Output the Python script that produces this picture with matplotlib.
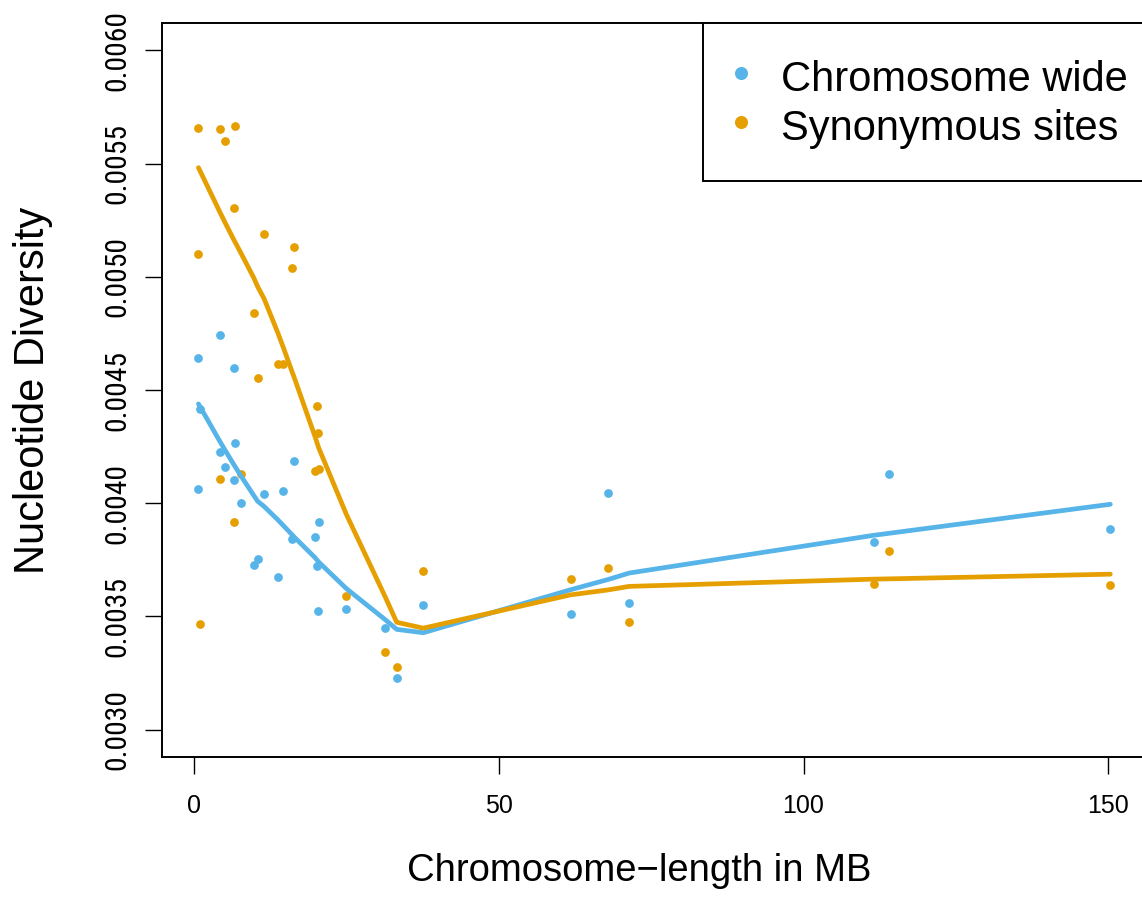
import numpy as np
import matplotlib
matplotlib.use("Agg")
import matplotlib.pyplot as plt
from matplotlib import font_manager
from matplotlib.lines import Line2D

# ---------------- data ----------------
chrom_length_mb = [0.8, 0.8, 1.05, 4.25, 4.3, 5.1, 6.6, 6.7, 6.85, 7.75,
                   9.9, 10.5, 11.55, 13.8, 14.7, 16.2, 16.4, 19.9, 20.2, 20.35,
                   20.5, 25.05, 31.4, 33.3, 37.65, 61.8, 68.0, 71.4, 111.6, 114.05,
                   150.3]
pi_chromosome_wide = [0.004643, 0.004061, 0.004415, 0.004745, 0.004226, 0.004161,
                      0.004596, 0.004102, 0.004267, 0.003999, 0.003729, 0.003752,
                      0.004040, 0.003675, 0.004052, 0.003843, 0.004185, 0.003852,
                      0.003722, 0.003523, 0.003916, 0.003534, 0.003450, 0.003227,
                      0.003551, 0.003510, 0.004046, 0.003557, 0.003828, 0.004127,
                      0.003884]
pi_synonymous = [0.005656, 0.005100, 0.003466, 0.005651, 0.004105, 0.005599,
                 0.005305, 0.003916, 0.005667, 0.004127, 0.004842, 0.004555,
                 0.005188, 0.004617, 0.004617, 0.005038, 0.005132, 0.004142,
                 0.004429, 0.004312, 0.004153, 0.003589, 0.003342, 0.003277,
                 0.003700, 0.003666, 0.003715, 0.003474, 0.003645, 0.003787,
                 0.003637]
series_labels = ["Chromosome wide", "Synonymous sites"]
x_ticks = [0, 50, 100, 150]
y_ticks = [0.0030, 0.0035, 0.0040, 0.0045, 0.0050, 0.0055, 0.0060]
y_limits = (0.0030, 0.0060)

COL_BLUE = "#56B4E9"
COL_ORANGE = "#E69F00"


# ---------------- R-style lowess smoother (port of clowess) ----------------
def _lowest(x, y, n, xs, nleft, nright, rw, userw):
    rng = x[n - 1] - x[0]
    h = max(xs - x[nleft], x[nright] - xs)
    h9, h1 = 0.999 * h, 0.001 * h
    w = np.zeros(n)
    a = 0.0
    j = nleft
    while j < n:
        r = abs(x[j] - xs)
        if r <= h9:
            w[j] = 1.0 if r <= h1 else (1 - (r / h) ** 3) ** 3
            if userw:
                w[j] *= rw[j]
            a += w[j]
        elif x[j] > xs:
            break
        j += 1
    nrt = j - 1
    if a <= 0:
        return 0.0, False
    sl = slice(nleft, nrt + 1)
    w[sl] /= a
    if h > 0:
        a = np.sum(w[sl] * x[sl])
        b = xs - a
        c = np.sum(w[sl] * (x[sl] - a) ** 2)
        if np.sqrt(c) > 0.001 * rng:
            b /= c
            w[sl] *= (b * (x[sl] - a) + 1.0)
    return float(np.sum(w[sl] * y[sl])), True


def r_lowess(xv, yv, f=2 / 3, iters=3):
    xv = np.asarray(xv, float)
    yv = np.asarray(yv, float)
    order = np.argsort(xv, kind="stable")
    x, y = xv[order], yv[order]
    n = len(x)
    delta = 0.01 * (x[-1] - x[0])
    ns = max(2, min(n, int(f * n + 1e-7)))
    ys = np.zeros(n)
    rw = np.ones(n)
    for it in range(1, iters + 2):
        nleft, nright, last, i = 0, ns - 1, -1, 0
        while True:
            if nright < n - 1:
                d1 = x[i] - x[nleft]
                d2 = x[nright + 1] - x[i]
                if d1 > d2:
                    nleft += 1
                    nright += 1
                    continue
            val, ok = _lowest(x, y, n, x[i], nleft, nright, rw, it > 1)
            ys[i] = val if ok else y[i]
            if last < i - 1:
                denom = x[i] - x[last]
                for j in range(last + 1, i):
                    alpha = (x[j] - x[last]) / denom
                    ys[j] = alpha * ys[i] + (1 - alpha) * ys[last]
            last = i
            cut = x[last] + delta
            i = last + 1
            while i < n:
                if x[i] > cut:
                    break
                if x[i] == x[last]:
                    ys[i] = ys[last]
                    last = i
                i += 1
            i = max(last + 1, i - 1)
            if last >= n - 1:
                break
        res = y - ys
        sc = np.mean(np.abs(res))
        if it > iters:
            break
        r = np.abs(res)
        cmad = 6.0 * np.median(r)
        if cmad < 1e-7 * sc:
            break
        c9, c1 = 0.999 * cmad, 0.001 * cmad
        rw = np.where(r <= c1, 1.0,
                      np.where(r <= c9, (1 - (r / cmad) ** 2) ** 2, 0.0))
    return x, ys


# ---------------- fonts ----------------
def has_font(name):
    try:
        font_manager.findfont(font_manager.FontProperties(family=name),
                              fallback_to_default=False)
        return True
    except Exception:
        return False

MAIN_FONT = "Liberation Sans" if has_font("Liberation Sans") else "DejaVu Sans"
plt.rcParams["font.family"] = [MAIN_FONT, "DejaVu Sans"]


def find_narrow_font():
    prefs = ["liberationsansnarrow-regular", "arialn", "roboto condensed",
             "robotocondensed-regular", "opensans_condensed", "dejavusanscondensed."]
    files = [f.fname for f in font_manager.fontManager.ttflist]
    for p in prefs:
        for fn in files:
            base = fn.lower().replace("-", "").replace(" ", "")
            key = p.replace("-", "").replace(" ", "")
            if key in base and "bold" not in base and "italic" not in base \
                    and "oblique" not in base and "light" not in base:
                return font_manager.FontProperties(fname=fn)
    return font_manager.FontProperties(family=MAIN_FONT)

narrow_fp = find_narrow_font()

# ---------------- figure ----------------
W, H = 1142, 897
fig = plt.figure(figsize=(W / 100, H / 100), dpi=100)
renderer = fig.canvas.get_renderer()

# size the y tick labels: "0.0040" about 80 px long, digits at most ~23 px
probe = fig.text(0, 0, "0.0040", fontproperties=narrow_fp, fontsize=10)
probe_w = probe.get_window_extent(renderer).width
probe.remove()
ytick_size = min(23.0, 10.0 * 80.0 / probe_w)

ax_left, ax_right, ax_top, ax_bottom = 162, 1146.8, 23.3, 756.7
ax = fig.add_axes([ax_left / W, (H - ax_bottom) / H,
                   (ax_right - ax_left) / W, (ax_bottom - ax_top) / H])

# R-like 4% axis extension
xmin, xmax = min(chrom_length_mb), max(chrom_length_mb)
xr = xmax - xmin
ax.set_xlim(xmin - 0.04 * xr, xmax + 0.04 * xr)
yr = y_limits[1] - y_limits[0]
ax.set_ylim(y_limits[0] - 0.04 * yr, y_limits[1] + 0.04 * yr)

ms = 6.3
ax.plot(chrom_length_mb, pi_chromosome_wide, "o", color=COL_BLUE, ms=ms,
        mec="none", zorder=3)
ax.plot(chrom_length_mb, pi_synonymous, "o", color=COL_ORANGE, ms=ms,
        mec="none", zorder=3)

lx, ly = r_lowess(chrom_length_mb, pi_chromosome_wide)
ax.plot(lx, ly, "-", color=COL_BLUE, lw=3.4, zorder=4,
        solid_capstyle="round", solid_joinstyle="round")
lx2, ly2 = r_lowess(chrom_length_mb, pi_synonymous)
ax.plot(lx2, ly2, "-", color=COL_ORANGE, lw=3.4, zorder=4,
        solid_capstyle="round", solid_joinstyle="round")

# axes styling
for sp in ax.spines.values():
    sp.set_linewidth(1.4)
    sp.set_color("black")
ax.set_xticks(x_ticks)
ax.set_xticklabels([str(t) for t in x_ticks])
ax.set_yticks(y_ticks)
ax.set_yticklabels([f"{t:.4f}" for t in y_ticks])
ax.tick_params(axis="both", direction="out", length=12.2, width=1.0,
               color="black")
ax.tick_params(axis="x", labelsize=18, pad=15)
ax.tick_params(axis="y", pad=9.6)
for lab in ax.get_yticklabels():
    lab.set_fontproperties(narrow_fp)
    lab.set_fontsize(ytick_size)
    lab.set_rotation(90)
    lab.set_va("center")

# axis labels
fig.text(639.5 / W, 1 - 871 / H, "Chromosome\u2212length in MB",
         ha="center", va="center", fontsize=27.5)
fig.text(33.5 / W, 1 - 390 / H, "Nucleotide Diversity", rotation=90,
         ha="center", va="center", fontsize=30)

# legend
handles = [Line2D([], [], ls="none", marker="o", ms=9.4, color=COL_BLUE,
                  mec="none"),
           Line2D([], [], ls="none", marker="o", ms=9.4, color=COL_ORANGE,
                  mec="none")]
anchor_x = (1160 - ax_left) / (ax_right - ax_left)
leg = ax.legend(handles, series_labels, loc="upper right",
                bbox_to_anchor=(anchor_x, 1.0), borderaxespad=0,
                fontsize=30, frameon=True, fancybox=False, framealpha=1,
                edgecolor="black", borderpad=0.77, handlelength=0.29,
                handletextpad=0.82, labelspacing=0.1, handleheight=1.22)
leg.get_frame().set_linewidth(1.4)
leg.set_zorder(5)

fig.savefig("out.png", dpi=100)
